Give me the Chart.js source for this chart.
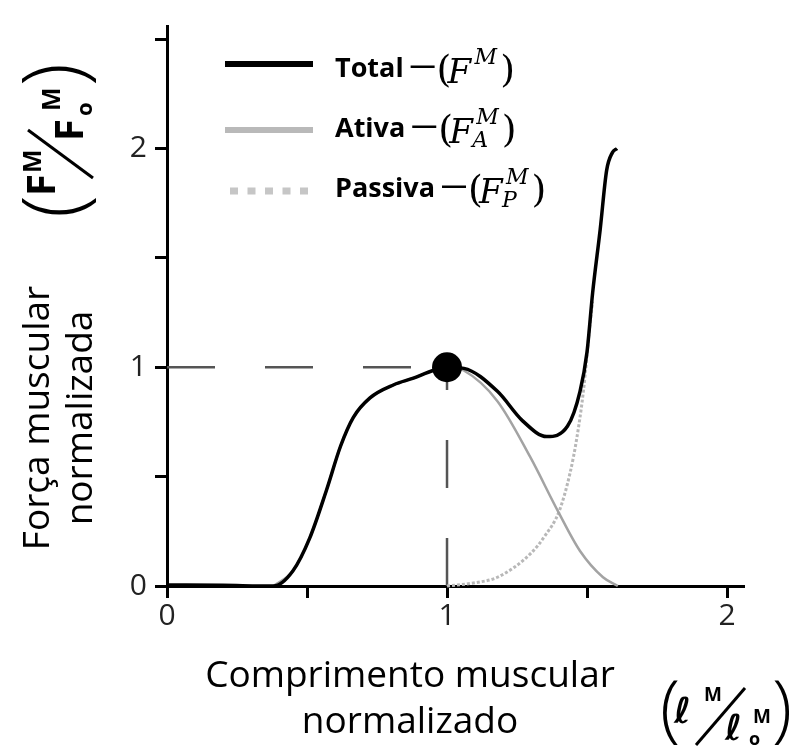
<!DOCTYPE html>
<html>
<head>
<meta charset="utf-8">
<script src="https://cdn.jsdelivr.net/npm/chart.js@4.4.1/dist/chart.umd.min.js"></script>
<style>
  html, body { margin: 0; padding: 0; background: #fff; }
  #wrap { width: 789px; height: 747px; position: relative; }
</style>
</head>
<body>
<div id="wrap"><canvas id="chart"></canvas></div>
<script>
// values (x = l/lo, y = F/Fo)
const totalX = [0, 0.2, 0.38, 0.45, 0.51, 0.57, 0.62, 0.665, 0.725, 0.81, 0.88, 0.95, 1.0, 1.06, 1.18, 1.27, 1.356, 1.43, 1.475, 1.5, 1.52, 1.547, 1.57, 1.59, 1.607];
const totalY = [0.005, 0.003, 0.0, 0.07, 0.22, 0.44, 0.64, 0.77, 0.86, 0.92, 0.95, 0.985, 1.0, 0.995, 0.89, 0.755, 0.683, 0.73, 0.89, 1.07, 1.34, 1.63, 1.9, 1.98, 2.0];

const activeX = [0.38, 0.45, 0.51, 0.57, 0.62, 0.665, 0.725, 0.81, 0.88, 0.95, 1.0, 1.06, 1.18, 1.297, 1.397, 1.475, 1.557, 1.61];
const activeY = [0, 0.07, 0.22, 0.44, 0.64, 0.77, 0.86, 0.92, 0.95, 0.985, 1.0, 0.985, 0.845, 0.59, 0.34, 0.16, 0.04, 0];

const passiveX = [1.0, 1.1, 1.18, 1.3, 1.35, 1.4, 1.44, 1.464, 1.487, 1.51, 1.52];
const passiveY = [0, 0.015, 0.04, 0.15, 0.23, 0.34, 0.52, 0.68, 0.89, 1.19, 1.3];

const optimum = [1, 1]; // (l/lo, F/Fo) of the marked point
const xTicks = [0, 1, 2];
const yTicks = [0, 1, 2];

const pts = (xs, ys) => xs.map((x, i) => ({ x: x, y: ys[i] }));

const SERIF = '"DejaVu Serif"';
const SANS = '"Open Sans"';

function legendRow(ctx, lineY, base, label, sub, drawSample) {
    drawSample(lineY);
    ctx.fillStyle = '#000';
    ctx.textAlign = 'left';
    ctx.textBaseline = 'alphabetic';
    ctx.font = 'bold 27px ' + SANS;
    ctx.fillText(label, 335, base);
    const d = 335 + ctx.measureText(label).width + 7;
    ctx.fillRect(d, base - 11.5, 24, 2.5);
    ctx.font = '38px ' + SERIF;
    ctx.fillText('(', d + 26, base + 5);
    ctx.font = 'italic 34px ' + SERIF;
    ctx.fillText('F', d + 37, base + 6);
    ctx.font = 'italic 22px ' + SERIF;
    const sx = d + 64;
    ctx.fillText('M', sx, base - 13);
    let w = ctx.measureText('M').width;
    if (sub) {
        ctx.fillText(sub, sx - 4, base + 10);
        w = Math.max(w, ctx.measureText(sub).width - 4);
    }
    ctx.font = '38px ' + SERIF;
    ctx.fillText(')', sx + w + 3, base + 5);
}

// rotated text, (x, y) = screen point where the baseline starts (text runs upward)
function upText(ctx, t, font, x, y) {
    ctx.save();
    ctx.translate(x, y);
    ctx.rotate(-Math.PI / 2);
    ctx.font = font;
    ctx.textAlign = 'left';
    ctx.textBaseline = 'alphabetic';
    ctx.fillText(t, 0, 0);
    ctx.restore();
}

const decor = {
    id: 'decor',
    afterDraw(chart) {
        const ctx = chart.ctx;
        ctx.save();
        ctx.fillStyle = '#000';
        ctx.strokeStyle = '#000';

        // legend
        legendRow(ctx, 64, 77, 'Total', null, y => {
            ctx.fillStyle = '#000'; ctx.fillRect(225, y - 3, 88, 6);
        });
        legendRow(ctx, 130, 137, 'Ativa', 'A', y => {
            ctx.fillStyle = '#b9b9b9'; ctx.fillRect(225, y - 3, 88, 6);
        });
        legendRow(ctx, 191, 197, 'Passiva', 'P', y => {
            ctx.fillStyle = '#c6c6c6';
            for (let i = 0; i < 5; i++) ctx.fillRect(230 + i * 17.5, y - 3.5, 8, 7);
        });

        // x title
        ctx.fillStyle = '#000';
        ctx.textAlign = 'center';
        ctx.textBaseline = 'middle';
        ctx.font = '37px ' + SANS;
        ctx.fillText('Comprimento muscular', 410, 676);
        ctx.fillText('normalizado', 410, 722);

        // y title
        ctx.save();
        ctx.translate(38, 418);
        ctx.rotate(-Math.PI / 2);
        ctx.fillText('Força muscular', 0, 0);
        ctx.fillText('normalizada', 0, 43);
        ctx.restore();

        // (F^M / Fo^M), rotated, top left
        upText(ctx, '(', '300 84px ' + SANS, 83, 218);
        upText(ctx, ')', '300 84px ' + SANS, 83, 86);
        upText(ctx, 'F', 'bold 40px ' + SANS, 55, 196);
        upText(ctx, 'M', 'bold 25px ' + SANS, 41, 173);
        upText(ctx, 'F', 'bold 40px ' + SANS, 83, 141);
        upText(ctx, 'M', 'bold 25px ' + SANS, 60, 111);
        upText(ctx, 'o', 'bold 22px ' + SANS, 92, 116);
        ctx.lineWidth = 3;
        ctx.beginPath();
        ctx.moveTo(28, 130);
        ctx.lineTo(93, 178);
        ctx.stroke();

        // (l^M / lo^M), bottom right
        ctx.textAlign = 'left';
        ctx.textBaseline = 'alphabetic';
        ctx.font = '300 74px ' + SANS;
        ctx.fillText('(', 660, 733);
        ctx.fillText(')', 772, 733);
        ctx.font = 'bold italic 36px "DejaVu Sans"';
        ctx.fillText('\u2113', 674, 723);
        ctx.fillText('\u2113', 725, 740);
        ctx.font = 'bold 19px ' + SANS;
        ctx.fillText('M', 704, 701);
        ctx.fillText('M', 753, 723);
        ctx.font = 'bold 18px ' + SANS;
        ctx.fillText('o', 749, 745);
        ctx.lineWidth = 3;
        ctx.beginPath();
        ctx.moveTo(745, 688);
        ctx.lineTo(696, 745);
        ctx.stroke();

        ctx.restore();
    }
};

const axisCommon = {
    type: 'linear',
    border: { display: true, color: '#000', width: 3 },
    grid: { drawOnChartArea: false, drawTicks: true, tickLength: 12, color: '#000', lineWidth: 3 },
};

new Chart(document.getElementById('chart'), {
    type: 'scatter',
    data: {
        datasets: [
            {
                label: 'optimo',
                data: [{ x: optimum[0], y: optimum[1] }],
                pointRadius: 15,
                pointBackgroundColor: '#000',
                pointBorderWidth: 0,
                showLine: false
            },
            {
                label: 'Total',
                data: pts(totalX, totalY),
                showLine: true,
                borderColor: '#000',
                borderWidth: 3.5,
                pointRadius: 0,
                cubicInterpolationMode: 'monotone'
            },
            {
                label: 'Ativa',
                data: pts(activeX, activeY),
                showLine: true,
                borderColor: '#a3a3a3',
                borderWidth: 2.5,
                pointRadius: 0,
                cubicInterpolationMode: 'monotone'
            },
            {
                label: 'Passiva',
                data: pts(passiveX, passiveY),
                showLine: true,
                borderColor: '#b8b8b8',
                borderWidth: 3,
                borderDash: [3, 2],
                pointRadius: 0,
                cubicInterpolationMode: 'monotone'
            },
            {
                label: 'ref-h',
                data: [{ x: 0, y: optimum[1] }, { x: optimum[0], y: optimum[1] }],
                showLine: true,
                borderColor: '#555',
                borderWidth: 2.5,
                borderDash: [48, 50],
                pointRadius: 0
            },
            {
                label: 'ref-v',
                data: [{ x: optimum[0], y: 0 }, { x: optimum[0], y: optimum[1] }],
                showLine: true,
                borderColor: '#555',
                borderWidth: 2.5,
                borderDash: [48, 50],
                pointRadius: 0
            }
        ]
    },
    options: {
        responsive: true,
        maintainAspectRatio: false,
        animation: false,
        layout: { padding: { left: 0, top: 12, right: 46, bottom: 0 } },
        datasets: { scatter: { clip: false } },
        plugins: { legend: { display: false }, tooltip: { enabled: false } },
        scales: {
            x: Object.assign({}, axisCommon, {
                min: 0, max: 2.057,
                afterFit: s => { s.height = 161; },
                ticks: {
                    stepSize: 0.5, includeBounds: false, padding: 0, maxRotation: 0,
                    color: '#222', font: { family: 'Open Sans', size: 30 },
                    callback: v => xTicks.includes(v) ? String(v) : ''
                }
            }),
            y: Object.assign({}, axisCommon, {
                min: 0, max: 2.56,
                afterFit: s => { s.width = 167; },
                ticks: {
                    stepSize: 0.5, includeBounds: false, padding: 8,
                    color: '#222', font: { family: 'Open Sans', size: 30 },
                    callback: v => yTicks.includes(v) ? String(v) : ''
                }
            })
        }
    },
    plugins: [decor]
});
</script>
</body>
</html>
